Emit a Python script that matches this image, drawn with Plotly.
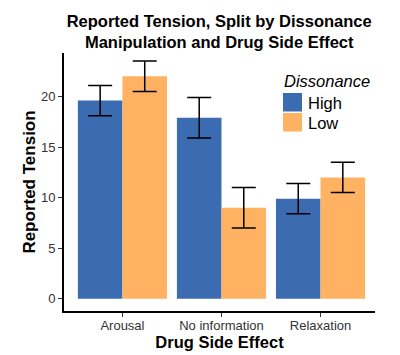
import plotly.graph_objects as go

categories = ["Arousal", "No information", "Relaxation"]
high_vals = [19.6, 17.9, 9.9]
high_err = [1.5, 2.0, 1.5]
low_vals = [22.0, 9.0, 12.0]
low_err = [1.5, 2.0, 1.5]
y_ticks = [0, 5, 10, 15, 20]
series_names = ["High", "Low"]
series_colors = ["#3B6BB1", "#FEB262"]

FONT = "Liberation Sans, Arial, sans-serif"

fig = go.Figure()
for name, vals, err, col in zip(series_names, [high_vals, low_vals], [high_err, low_err], series_colors):
    fig.add_trace(go.Bar(
        x=categories, y=vals, name=name,
        marker=dict(color=col, line=dict(width=0)),
        error_y=dict(type="data", array=err, color="black", thickness=1.5, width=12),
        showlegend=False,
    ))

# plot area in pixels
L, T, W, H = 64, 53, 311, 258
def px(x):
    return (x - L) / W
def py(y):
    return 1 - (y - T) / H

shapes = []
annotations = []
annotations.append(dict(
    text="<i>Dissonance</i>", x=px(282), y=py(81), xref="paper", yref="paper",
    xanchor="left", yanchor="middle", showarrow=False,
    font=dict(size=16.5, color="black", family=FONT),
))
for i, (name, col) in enumerate(zip(series_names, series_colors)):
    top = 93 + i * 20
    shapes.append(dict(
        type="rect", xref="paper", yref="paper",
        x0=px(283), x1=px(302), y0=py(top), y1=py(top + 18.5),
        fillcolor=col, line=dict(width=0),
    ))
    annotations.append(dict(
        text=name, x=px(306), y=py(top + 9.5), xref="paper", yref="paper",
        xanchor="left", yanchor="middle", showarrow=False,
        font=dict(size=16.5, color="black", family=FONT),
    ))

fig.update_layout(
    width=400, height=355,
    margin=dict(l=L, r=400 - L - W, t=T, b=355 - T - H, autoexpand=False),
    paper_bgcolor="white", plot_bgcolor="white",
    barmode="group", bargap=0.1, bargroupgap=0,
    font=dict(family=FONT, color="#222"),
    title=dict(
        text="<b>Reported Tension, Split by Dissonance<br>Manipulation and Drug Side Effect</b>",
        x=0.548, xanchor="center", y=1 - 27 / 355, yanchor="middle", yref="container",
        font=dict(size=16.5, color="black", family=FONT),
    ),
    shapes=shapes,
    annotations=annotations,
    xaxis=dict(
        range=[-0.59, 2.55], automargin=False,
        showline=True, linecolor="black", linewidth=2,
        ticks="outside", ticklen=4, tickcolor="#333", tickwidth=1,
        ticklabelstandoff=-3,
        tickfont=dict(size=13, color="#333"),
        title=dict(text="<b>Drug Side Effect</b>", font=dict(size=16.5, color="black"), standoff=2),
        showgrid=False, zeroline=False,
    ),
    yaxis=dict(
        range=[-1.2, 24.3], automargin=False,
        tickvals=y_ticks,
        showline=True, linecolor="black", linewidth=2,
        ticks="outside", ticklen=4, tickcolor="#333", tickwidth=1,
        tickfont=dict(size=13, color="#333"),
        title=dict(text="<b>Reported Tension</b>", font=dict(size=17, color="black"), standoff=1),
        showgrid=False, zeroline=False,
    ),
)

fig.write_html(
    "out.html",
    config={"displayModeBar": False},
    post_script="document.body.style.margin='0';document.body.style.padding='0';document.body.style.overflow='hidden';",
)
